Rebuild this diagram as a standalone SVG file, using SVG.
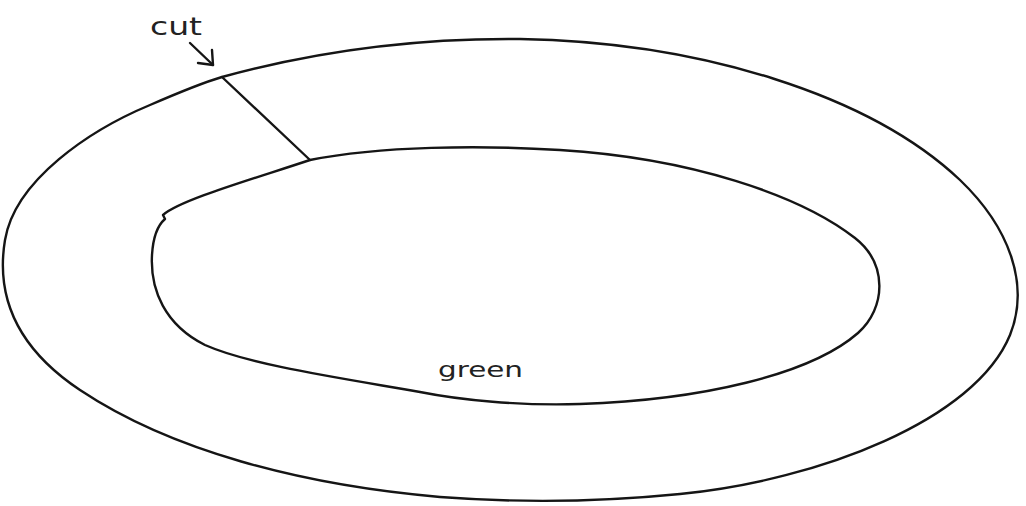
<svg xmlns="http://www.w3.org/2000/svg" width="1026" height="506" viewBox="0 0 1026 506">
<style>
.ln{fill:none;stroke:#151515;stroke-width:2.4;stroke-linecap:round;stroke-linejoin:round}
.lbl{font-family:"DejaVu Sans",sans-serif;fill:#222}
</style>
<rect width="1026" height="506" fill="#fff"/>
<g id="outer-ring">
<path class="ln" d="M222,77 C320,50 420,38 520,39 C700,42 870,95 960,180 C1010,228 1030,285 1010,335 C975,420 820,480 680,494 C600,502 520,503 440,497 C300,485 170,450 80,390 C20,350 -5,300 5,240 C15,180 90,130 150,105 C180,92 205,82 222,77 Z"/>
</g>
<g id="inner-ring">
<path class="ln" d="M310,160 C380,146 480,145 560,150 C690,158 800,195 855,238 C888,264 886,308 858,333 C810,375 700,400 580,404 C520,406 460,400 420,392 C340,378 250,365 205,345 C165,325 150,290 152,255 C153,238 158,225 165,219 L163,215 C180,200 250,180 310,160 Z"/>
</g>
<g id="connectors">
<line class="ln" x1="222" y1="77" x2="310" y2="160"/>
<line class="ln" x1="190" y1="43" x2="213" y2="65"/>
<polyline class="ln" points="212,50 213,65 198,63"/>
</g>
<g id="labels">
<text class="lbl" x="150" y="35" font-size="24" textLength="52" lengthAdjust="spacingAndGlyphs">cut</text>
<text class="lbl" x="438" y="377" font-size="21" textLength="85" lengthAdjust="spacingAndGlyphs">green</text>
</g>
</svg>
